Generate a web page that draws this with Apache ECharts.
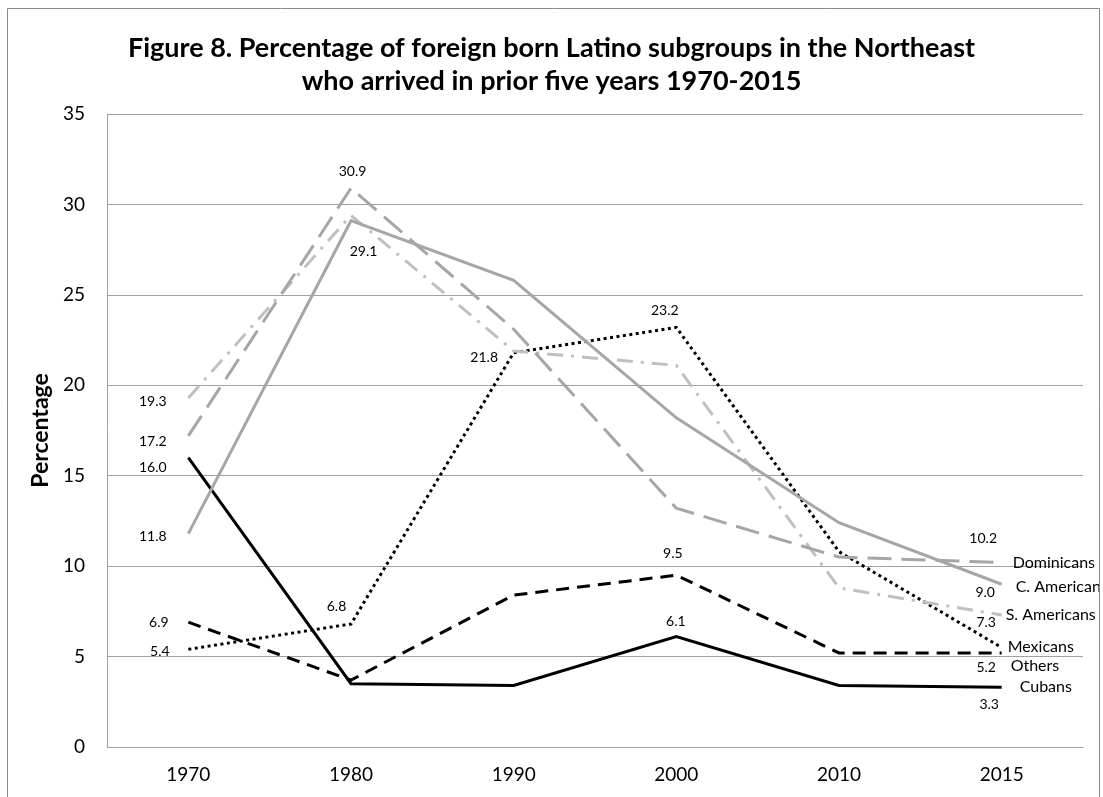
<!DOCTYPE html>
<html>
<head>
<meta charset="utf-8">
<script src="https://cdn.jsdelivr.net/npm/echarts@6/dist/echarts.min.js"></script>
<style>
html,body{margin:0;padding:0;background:#fff;}
#chart{width:1103px;height:797px;}
</style>
</head>
<body>
<div id="chart"></div>
<script>
const categories = ['1970', '1980', '1990', '2000', '2010', '2015'];
const seriesNames = ['Dominicans', 'C. American', 'S. Americans', 'Mexicans', 'Others', 'Cubans'];
const dominicans = [17.2, 30.9, 23.1, 13.2, 10.5, 10.2];
const cAmerican = [11.8, 29.1, 25.8, 18.2, 12.4, 9.0];
const sAmericans = [19.3, 29.4, 21.9, 21.1, 8.8, 7.3];
const mexicans = [5.4, 6.8, 21.8, 23.2, 10.8, 5.5];
const others = [6.9, 3.7, 8.4, 9.5, 5.2, 5.2];
const cubans = [16.0, 3.5, 3.4, 6.1, 3.4, 3.3];
const yTicks = { min: 0, max: 35, interval: 5 };

// label placement (offset of label center from point), null = no label
const labelOffsets = [
  [[-35, 6], [2, -16], null, null, null, [-18, -24]],
  [[-35, 3], [13, 31], null, null, null, [-16, 9]],
  [[-35, 4], null, null, null, null, [-15, 8]],
  [[-28, 3], [-14, -17], [-29, 5], [-11, -16], null, null],
  [[-29, 1], null, null, [-3, -21], null, [-15, 15]],
  [[-35, 10], null, null, [0, -15], null, [-12, 18]]
];
const endOffsets = [[6, 0], [9, 3], [-1, 0], [1, -1], [4, 13], [13, 0]];
const styles = [
  { color: '#a6a6a6', type: [24, 10] },
  { color: '#a6a6a6', type: 'solid' },
  { color: '#c0c0c0', type: [16, 8, 3, 8] },
  { color: '#000000', type: [3, 3.5] },
  { color: '#000000', type: [13, 8] },
  { color: '#000000', type: 'solid' }
];
const values = [dominicans, cAmerican, sAmericans, mexicans, others, cubans];
const FONT = 'Lato';

const series = values.map((vals, si) => ({
  name: seriesNames[si],
  type: 'line',
  symbol: 'circle',
  symbolSize: 1,
  showSymbol: true,
  itemStyle: { color: 'rgba(0,0,0,0)', borderWidth: 0 },
  lineStyle: { width: 3, color: styles[si].color, type: styles[si].type, cap: 'butt', join: 'miter' },
  labelLayout: { hideOverlap: false },
  data: vals.map((v, i) => {
    const off = labelOffsets[si][i];
    const d = { value: v };
    if (off) {
      d.label = {
        show: true, position: off, align: 'center', verticalAlign: 'middle',
        formatter: (p) => Number(p.value).toFixed(1),
        fontFamily: FONT, fontSize: 14, color: '#000'
      };
    } else {
      d.label = { show: false };
    }
    return d;
  }),
  endLabel: {
    show: true, formatter: seriesNames[si], distance: 5, offset: endOffsets[si],
    fontFamily: FONT, fontSize: 16, color: '#000', align: 'left', verticalAlign: 'middle'
  },
  emphasis: { disabled: true },
  z: 10 - si
}));

const chart = echarts.init(document.getElementById('chart'), null, { renderer: 'canvas' });
chart.setOption({
  animation: false,
  backgroundColor: '#fff',
  title: {
    text: 'Figure 8. Percentage of foreign born Latino subgroups in the Northeast\nwho arrived in prior five years 1970-2015',
    left: 'center',
    top: 27,
    textStyle: { fontFamily: FONT, fontWeight: 'bold', fontSize: 27, lineHeight: 33, color: '#000' }
  },
  grid: { left: 107, right: 20, top: 114, bottom: 50, containLabel: false },
  xAxis: {
    type: 'category',
    data: categories,
    boundaryGap: true,
    axisLine: { show: true, lineStyle: { color: '#a0a0a0', width: 1 } },
    axisTick: { show: false },
    axisLabel: { fontFamily: FONT, fontSize: 19, color: '#000', margin: 18 }
  },
  yAxis: {
    type: 'value',
    min: yTicks.min, max: yTicks.max, interval: yTicks.interval,
    name: 'Percentage',
    nameLocation: 'middle',
    nameGap: 52,
    nameTextStyle: { fontFamily: FONT, fontWeight: 'bold', fontSize: 23, color: '#000' },
    axisLine: { show: true, lineStyle: { color: '#a0a0a0', width: 1 } },
    axisTick: { show: false },
    axisLabel: { fontFamily: FONT, fontSize: 19, color: '#000', margin: 22 },
    splitLine: { show: true, lineStyle: { color: '#a0a0a0', width: 1 } }
  },
  graphic: [{
    type: 'rect',
    shape: { x: 7.5, y: 8.5, width: 1092, height: 820 },
    style: { fill: null, stroke: '#8a8a8a', lineWidth: 1 },
    silent: true, z: 100
  }],
  series: series
});
</script>
</body>
</html>
